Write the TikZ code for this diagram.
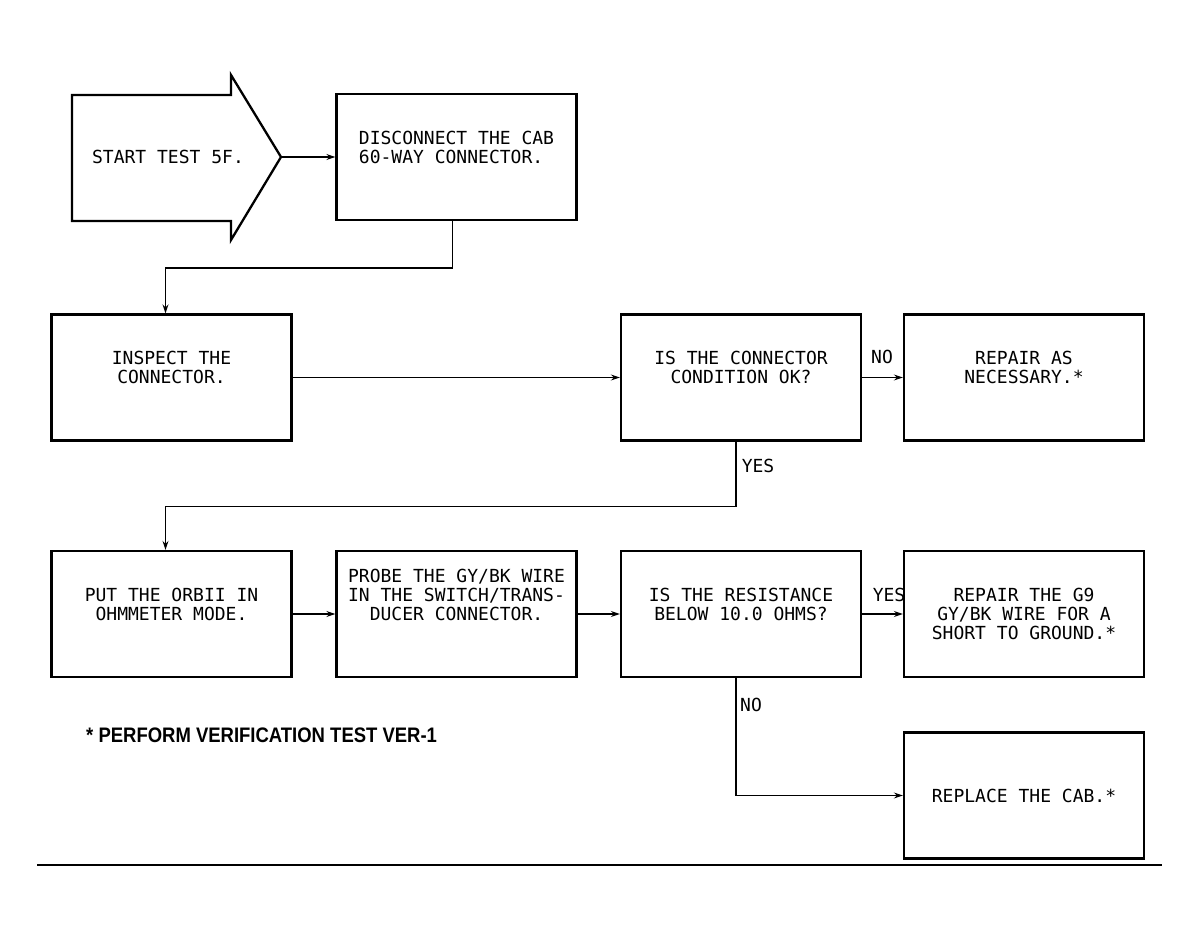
\documentclass[tikz,border=0pt]{standalone}
\usepackage{fontspec}
\usepackage{graphicx}
\usepackage{tikz}
\usetikzlibrary{arrows.meta}

\newfontfamily\boxfont{DejaVu Sans Mono}
\newfontfamily\notefont{Liberation Sans}

\tikzset{
  stepbox/.style={draw, line width=2.3pt, minimum width=240pt, minimum height=126pt,
    inner sep=0pt, align=center, text depth=20pt,
    font=\boxfont\fontsize{18}{19}\selectfont},
  lift/.style={text depth=#1},
  tag/.style={inner sep=0pt, font=\boxfont\fontsize{18}{19}\selectfont},
  arr/.style={line width=1.6pt, -{Stealth[length=9pt,width=6pt]}}
}

\begin{document}
\begin{tikzpicture}[x=1pt,y=-1pt]
            \useasboundingbox (0,0) rectangle (1199,941);

            % Start arrow
            \draw[line width=2.3pt] (72,95) -- (231,95) -- (231,75) -- (281,157)
              -- (231,240) -- (231,221) -- (72,221) -- cycle;
            \coordinate (tip) at (281,157);
            \node[tag] (start) at (168,157) {START TEST 5F.};

            % Boxes of the test
            \node[stepbox, align=left] (disc) at (456.5,157) {DISCONNECT THE CAB\\60-WAY CONNECTOR.};
            \node[stepbox] (inspect) at (171.5,377.5) {INSPECT THE\\CONNECTOR.};
            \node[stepbox] (cond) at (741,377.5) {IS THE CONNECTOR\\CONDITION OK?};
            \node[stepbox] (repair) at (1024,377.5) {REPAIR AS\\NECESSARY.*};
            \node[stepbox] (ohm) at (171.5,614) {PUT THE ORBII IN\\OHMMETER MODE.};
            \node[stepbox, lift=38pt] (probe) at (456.5,614) {PROBE THE GY/BK WIRE\\IN THE SWITCH/TRANS-\\DUCER CONNECTOR.};
            \node[stepbox] (res) at (741,614) {IS THE RESISTANCE\\BELOW 10.0 OHMS?};
            \node[stepbox, lift=0pt] (wire) at (1024,614) {REPAIR THE G9\\GY/BK WIRE FOR A\\SHORT TO GROUND.*};
            \node[stepbox, lift=0pt] (cab) at (1024,795.5) {REPLACE THE CAB.*};

            % Straight connectors
            \draw[arr] (tip) -- (disc);
            \foreach \a/\b in {inspect/cond, cond/repair, ohm/probe, probe/res, res/wire}
            \draw[arr] (\a) -- (\b);

            % Bent connectors
            \draw[arr] ([xshift=-4pt]disc.south) -- ++(0,47) -| ([xshift=-6pt]inspect.north);
            \draw[arr] ([xshift=-5pt]cond.south) -- ++(0,65) -| ([xshift=-6pt]ohm.north);
            \draw[arr] ([xshift=-5pt]res.south) |- (cab.west);

            % Answers
            \node[tag] (no1) at (882,357) {NO};
            \node[tag] (yes1) at (758,466) {YES};
            \node[tag] (yes2) at (889,595) {YES};
            \node[tag] (no2) at (751,705) {NO};

            % Note and rule
            \node[anchor=west, inner sep=0pt, font=\notefont\bfseries\fontsize{21}{24}\selectfont] (note) at (86,735)
              {\scalebox{0.88}[1]{* PERFORM VERIFICATION TEST VER-1}};
            \draw[line width=1.2pt] (37,865) -- (1162,865);
        \end{tikzpicture}
\end{document}
